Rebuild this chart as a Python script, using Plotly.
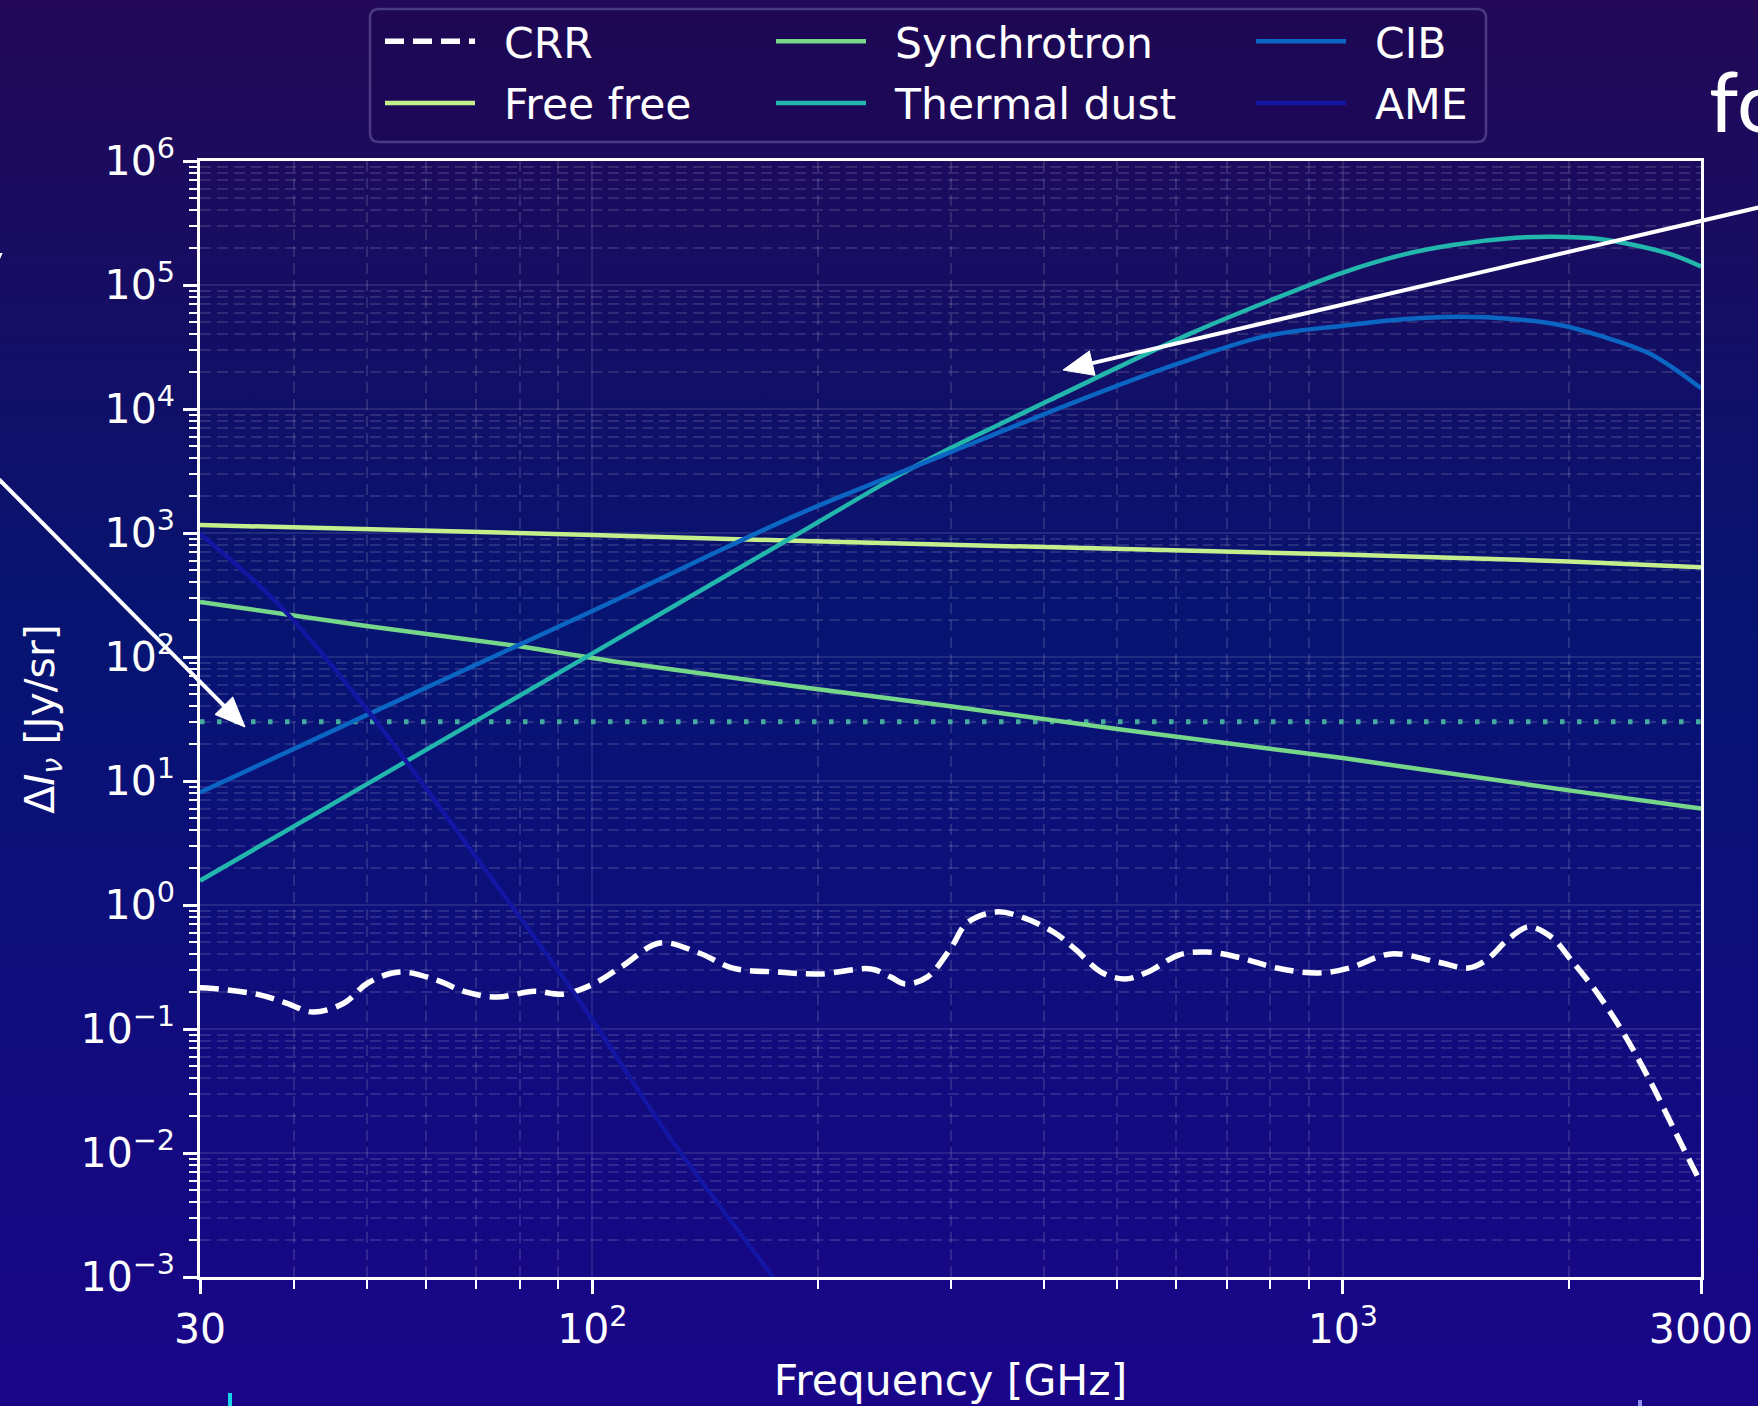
import base64
import plotly.graph_objects as go

# ---------------- data ----------------
crr_freq = [30, 30.65, 35.7, 39.1, 42.4, 46.7, 50.2, 55.4, 62.0, 67.8, 74.7, 83.6, 91.1, 99.6,
            109.2, 123.0, 138.7, 153.9, 176.2, 201.0, 235.1, 249.9, 261.0, 279.3, 301.0,
            315.6, 345.0, 375.9, 413.4, 441.0, 476.0, 512.2, 549.6, 604.2, 658.5, 731.4,
            816.6, 926.5, 1019, 1159, 1336, 1469, 1553, 1657, 1767, 1895, 2014, 2182, 2364,
            2562, 2777, 3000]
crr_vals = [0.215, 0.214, 0.191, 0.162, 0.137, 0.162, 0.235, 0.288, 0.248, 0.199, 0.181, 0.202,
            0.191, 0.226, 0.316, 0.494, 0.410, 0.310, 0.288, 0.278, 0.305, 0.262, 0.231, 0.262,
            0.46, 0.716, 0.879, 0.786, 0.594, 0.434, 0.288, 0.253, 0.288, 0.395, 0.418, 0.374,
            0.310, 0.283, 0.310, 0.403, 0.347, 0.310, 0.360, 0.522, 0.665, 0.552, 0.360, 0.195,
            0.0929, 0.0388, 0.0145, 0.0057]

ff_freq = [30, 50, 80, 100, 186, 300, 506, 1000, 2000, 3000]
ff_vals = [1160, 1075, 995, 965, 865, 805, 743, 670, 590, 530]

sync_freq = [30, 50, 80, 107, 186, 300, 506, 1000, 2000, 3000]
sync_vals = [278, 178, 122, 92, 58, 40, 26, 15.3, 8.4, 6.0]

dust_freq = [30, 50, 100, 186, 254, 293, 350, 407, 627, 800, 1000, 1200, 1400, 1700, 1900,
             2200, 2443, 2750, 3000]
dust_vals = [1.57, 9.4, 107, 949, 2850, 4500, 7600, 11800, 40700, 75000, 126000, 175000,
             210000, 240000, 245000, 235000, 210000, 175000, 141000]

cib_freq = [30, 50, 100, 186, 254, 295, 446, 600, 786, 1000, 1200, 1420, 1700, 1946, 2200,
            2558, 3000]
cib_vals = [8.08, 34, 235, 1374, 2980, 4300, 11800, 23000, 38500, 47000, 53000, 55500, 53000,
            47600, 39000, 28100, 14700]

ame_freq = [30, 38.2, 50, 67.1, 95.4, 128, 174, 180]
ame_vals = [986, 265, 38.1, 3.45, 0.18, 0.0123, 0.001, 0.00075]

threshold_freq = [30, 3000]
threshold_vals = [30, 30]

x_tickvals = [30, 100, 1000, 3000]
x_ticktext = ["30", "10<sup>2</sup>", "10<sup>3</sup>", "3000"]
x_minor = [40, 50, 60, 70, 80, 90, 200, 300, 400, 500, 600, 700, 800, 900, 2000]
y_exps = [-3, -2, -1, 0, 1, 2, 3, 4, 5, 6]
y_tickvals = [10.0 ** e for e in y_exps]
y_ticktext = ["10<sup>" + str(e).replace("-", "\u2212") + "</sup>" for e in y_exps]
y_minor = [m * 10.0 ** e for e in y_exps[:-1] for m in range(2, 10)]

# ---------------- figure geometry ----------------
W, H = 1758, 1406
ML, MR, MT, MB = 200, 57, 161, 129
PW, PH = W - ML - MR, H - MT - MB


def px_x(p):
    return (p - ML) / PW


def px_y(p):
    return (H - MB - p) / PH


def P(xp, yp):
    return "%.6f,%.6f" % (px_x(xp), px_y(yp))


FONT = "DejaVu Sans"
fig = go.Figure()

fig.add_trace(go.Scatter(x=threshold_freq, y=threshold_vals, mode="lines", showlegend=False,
                         hoverinfo="skip",
                         line=dict(color="rgba(72,186,162,0.9)", width=5, dash="4.5px,12.5px")))

series = [
    ("CRR", crr_freq, crr_vals, dict(color="white", width=5.5, dash="19px,9px", shape="spline"), "legend"),
    ("Free free", ff_freq, ff_vals, dict(color="#c4ef8d", width=4.5), "legend"),
    ("Synchrotron", sync_freq, sync_vals, dict(color="#76d68a", width=4.5), "legend2"),
    ("Thermal dust", dust_freq, dust_vals, dict(color="#22b6ad", width=4.5, shape="spline"), "legend2"),
    ("CIB", cib_freq, cib_vals, dict(color="#0b66c3", width=4.5, shape="spline"), "legend3"),
    ("AME", ame_freq, ame_vals, dict(color="#1216a2", width=4.5, shape="spline"), "legend3"),
]
for name, xs, ys, ln, lg in series:
    fig.add_trace(go.Scatter(x=xs, y=ys, mode="lines", name=name, line=ln, legend=lg,
                             legendgroup=name, showlegend=False))
# legend entries (their long handles are drawn below as shapes, like matplotlib's)
for name, xs, ys, ln, lg in series:
    fig.add_trace(go.Scatter(x=[None], y=[None], mode="lines", name=name, legend=lg,
                             legendgroup=name, showlegend=True, hoverinfo="skip",
                             line=dict(color="rgba(0,0,0,0)", width=ln["width"])))

# gradient background
svg = ('<svg xmlns="http://www.w3.org/2000/svg" width="1758" height="1406" preserveAspectRatio="none">'
       '<defs><linearGradient id="g" x1="0" y1="0" x2="0" y2="1">'
       '<stop offset="0" stop-color="#230857"/><stop offset="0.45" stop-color="#061472"/>'
       '<stop offset="1" stop-color="#1a0588"/></linearGradient></defs>'
       '<rect width="1758" height="1406" fill="url(#g)"/></svg>')
src = "data:image/svg+xml;base64," + base64.b64encode(svg.encode()).decode()

axis_common = dict(
    type="log", showline=True, linecolor="white", linewidth=2.5, mirror=True,
    ticks="outside", ticklen=14, tickwidth=2.5, tickcolor="white",
    showgrid=True, gridcolor="rgba(255,255,255,0.10)", gridwidth=2,
    tickfont=dict(family=FONT, size=41, color="white"), zeroline=False, automargin=False,
)

fig.update_layout(
    width=W, height=H, autosize=False,
    margin=dict(l=ML, r=MR, t=MT, b=MB, autoexpand=False),
    paper_bgcolor="#0b1070", plot_bgcolor="rgba(0,0,0,0)",
    font=dict(family=FONT, color="white", size=41),
    images=[dict(source=src, xref="paper", yref="paper", x=px_x(0), y=px_y(0),
                 sizex=W / PW, sizey=H / PH, xanchor="left", yanchor="top",
                 sizing="stretch", layer="below")],
    xaxis=dict(axis_common, range=[1.4771213, 3.4771213], tickmode="array",
               tickvals=x_tickvals, ticktext=x_ticktext,
               minor=dict(tickmode="array", tickvals=x_minor, ticks="outside", ticklen=9,
                          tickwidth=2, tickcolor="white", showgrid=True,
                          gridcolor="rgba(255,255,255,0.12)", gridwidth=2, griddash="11px,6px"),
               title=dict(text="Frequency [GHz]", font=dict(family=FONT, size=42.5, color="white"),
                          standoff=14)),
    yaxis=dict(axis_common, range=[-3, 6], tickmode="array",
               tickvals=y_tickvals, ticktext=y_ticktext,
               minor=dict(tickmode="array", tickvals=y_minor, ticks="outside", ticklen=8,
                          tickwidth=2, tickcolor="white", showgrid=True,
                          gridcolor="rgba(255,255,255,0.12)", gridwidth=2, griddash="11px,6px"),
               title=dict(text="\u0394<i>I</i><sub><i>\u03bd</i></sub> [Jy/sr]",
                          font=dict(family=FONT, size=41, color="white"), standoff=14)),
    showlegend=True,
)

# ---- three legend columns (matplotlib ncol=3 look) ----
LEG_TOP = 7.0
LEG_FS = 42.5
ITEM_H = LEG_FS * 1.3 + 3
GAP = 3.5
ITEMW = 114
col_line_start = [385, 776, 1256]
leg_common = dict(bgcolor="rgba(0,0,0,0)", borderwidth=0, orientation="v",
                  font=dict(family=FONT, size=LEG_FS, color="white"),
                  xanchor="left", yanchor="top", xref="paper", yref="paper",
                  y=px_y(LEG_TOP), tracegroupgap=GAP, itemwidth=ITEMW)
fig.update_layout(
    legend=dict(leg_common, x=px_x(col_line_start[0] - 5)),
    legend2=dict(leg_common, x=px_x(col_line_start[1] - 5)),
    legend3=dict(leg_common, x=px_x(col_line_start[2] - 5)),
)

# legend frame with rounded corners
x0, x1, y0, y1, r = 370, 1486, 9, 142, 9
frame = ("M " + P(x0 + r, y0) + " L " + P(x1 - r, y0) + " Q " + P(x1, y0) + " " + P(x1, y0 + r) +
         " L " + P(x1, y1 - r) + " Q " + P(x1, y1) + " " + P(x1 - r, y1) +
         " L " + P(x0 + r, y1) + " Q " + P(x0, y1) + " " + P(x0, y1 - r) +
         " L " + P(x0, y0 + r) + " Q " + P(x0, y0) + " " + P(x0 + r, y0) + " Z")
fig.add_shape(type="path", xref="paper", yref="paper", path=frame,
              line=dict(color="#4a3b84", width=2.5), fillcolor="rgba(28,8,82,0.55)", layer="below")

# legend handles
for ci, pair in enumerate([series[0:2], series[2:4], series[4:6]]):
    for ri, s in enumerate(pair):
        yy = LEG_TOP + 5 + ITEM_H / 2 + ri * (ITEM_H + GAP)
        xs0 = col_line_start[ci]
        ln = s[3]
        fig.add_shape(type="line", xref="paper", yref="paper",
                      x0=px_x(xs0), x1=px_x(xs0 + 90), y0=px_y(yy), y1=px_y(yy),
                      line=dict(color=ln["color"], width=ln["width"], dash=ln.get("dash", "solid")),
                      layer="above")

# small slide marks at the bottom
fig.add_shape(type="line", xref="paper", yref="paper", x0=px_x(230), x1=px_x(230),
              y0=px_y(1393), y1=px_y(1410), line=dict(color="#18d2e8", width=4))
fig.add_shape(type="line", xref="paper", yref="paper", x0=px_x(1640), x1=px_x(1640),
              y0=px_y(1400), y1=px_y(1410), line=dict(color="#8e86f2", width=4))


# slide arrows (line + triangular head)
def arrow(tail, tip, head_len=30, half_w=12.5, width=4):
    dx, dy = tip[0] - tail[0], tip[1] - tail[1]
    L = (dx * dx + dy * dy) ** 0.5
    ux, uy = dx / L, dy / L
    bx, by = tip[0] - head_len * ux, tip[1] - head_len * uy
    nx, ny = -uy, ux
    fig.add_shape(type="line", xref="paper", yref="paper",
                  x0=px_x(tail[0]), y0=px_y(tail[1]), x1=px_x(bx + 2 * ux), y1=px_y(by + 2 * uy),
                  line=dict(color="white", width=width), layer="above")
    fig.add_shape(type="path", xref="paper", yref="paper",
                  path="M " + P(*tip) + " L " + P(bx + half_w * nx, by + half_w * ny) +
                       " L " + P(bx - half_w * nx, by - half_w * ny) + " Z",
                  fillcolor="white", line=dict(color="white", width=1), layer="above")


arrow((-20, 460.2), (245, 727))
arrow((1800, 197.8), (1063, 370))

# cut-off slide text
fig.add_annotation(xref="paper", yref="paper", x=px_x(1707), y=px_y(100), text="for",
                   showarrow=False, xanchor="left", yanchor="middle",
                   font=dict(family="Lato", size=84, color="white"))
fig.add_annotation(xref="paper", yref="paper", x=px_x(5), y=px_y(262), text="y",
                   showarrow=False, xanchor="right", yanchor="middle",
                   font=dict(family="Lato", size=78, color="white"))

fig.write_html("out.html")
